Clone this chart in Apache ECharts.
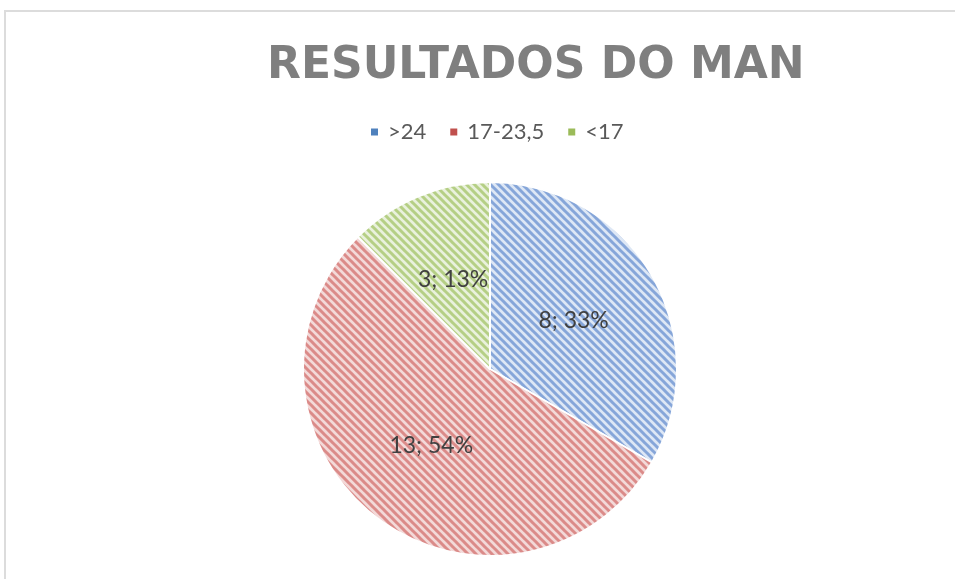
<!DOCTYPE html>
<html>
<head>
<meta charset="utf-8">
<script src="https://cdn.jsdelivr.net/npm/echarts@6/dist/echarts.min.js"></script>
<style>
  html, body { margin: 0; padding: 0; background: #fff; }
  #frame {
    position: absolute; left: 4px; top: 10px; width: 951px; height: 569px;
    border-left: 2px solid #dcdcdc; border-top: 2px solid #dcdcdc;
  }
  #chart { width: 100%; height: 100%; }
</style>
</head>
<body>
<div id="frame"><div id="chart"></div></div>
<script>
const categories = ['>24', '17-23,5', '<17']
const values = [8, 13, 3]
const titleText = 'RESULTADOS DO MAN'

const baseColors = ['#4f81bd', '#c0504d', '#9bbb59']
const stripeColors = ['#86a6d9', '#db8b89', '#b5cf85']
const bgColors = ['#dde7f5', '#f3d9d8', '#e9f1dc']

// diagonal hatch tile (top-left to bottom-right), like the Office pattern fill
function hatch(bg, fg) {
  const s = 8
  const c = document.createElement('canvas')
  c.width = s; c.height = s
  const ctx = c.getContext('2d')
  ctx.fillStyle = bg
  ctx.fillRect(0, 0, s, s)
  ctx.strokeStyle = fg
  ctx.lineWidth = 3
  ctx.beginPath()
  for (let k = -1; k <= 1; k++) {
    ctx.moveTo(k * s - 1, -1)
    ctx.lineTo(k * s + s + 1, s + 1)
  }
  ctx.stroke()
  return { image: c, repeat: 'repeat' }
}

const chart = echarts.init(document.getElementById('chart'))

chart.setOption({
  animation: false,
  title: {
    text: titleText,
    left: 256,
    top: 28,
    textStyle: {
      color: '#7f7f7f',
      fontFamily: 'DejaVu Sans',
      fontWeight: 'bold',
      fontSize: 44,
    },
  },
  legend: {
    left: 358,
    top: 104,
    itemWidth: 9,
    itemHeight: 9,
    itemGap: 22,
    icon: 'rect',
    textStyle: { color: '#595959', fontSize: 22, fontFamily: 'Lato', padding: [0, 0, 0, 4] },
    data: categories.map((name, i) => ({ name, itemStyle: { color: baseColors[i] } })),
  },
  series: [{
    type: 'pie',
    center: [484, 357],
    radius: [0, 187],
    startAngle: 90,
    clockwise: true,
    percentPrecision: 0,
    itemStyle: { borderColor: '#fff', borderWidth: 2 },
    label: {
      show: true,
      position: 'inner',
      formatter: '{c}; {d}%',
      color: '#404040',
      fontSize: 23,
      fontFamily: 'Lato',
    },
    labelLine: { show: false },
    emphasis: { disabled: true },
    data: categories.map((name, i) => ({
      name,
      value: values[i],
      itemStyle: { color: hatch(bgColors[i], stripeColors[i]) },
    })),
  }],
})
</script>
</body>
</html>
